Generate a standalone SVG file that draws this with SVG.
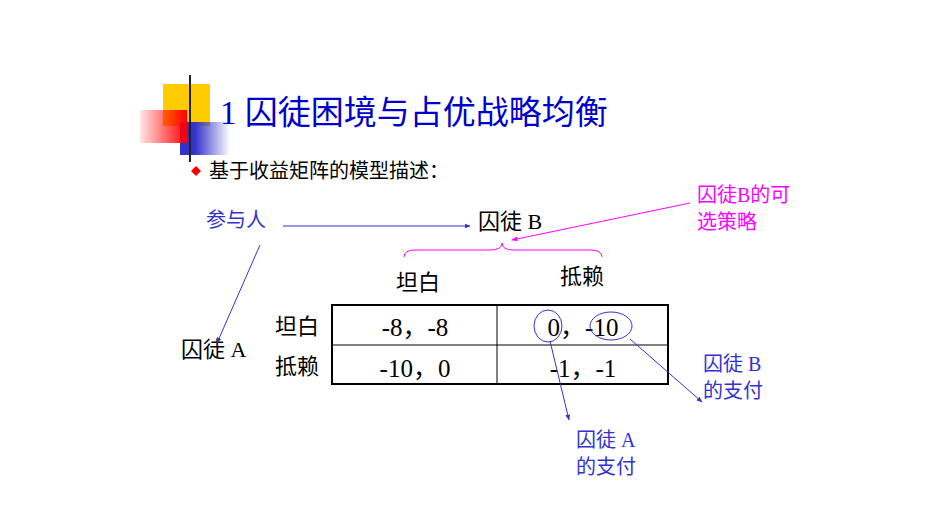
<svg xmlns="http://www.w3.org/2000/svg" width="942" height="512" viewBox="0 0 942 512">
<defs>
<linearGradient id="gr" x1="1" x2="0" y1="0" y2="0"><stop offset="0" stop-color="#ff0000"/><stop offset="1" stop-color="#ff0000" stop-opacity="0.1"/></linearGradient>
<linearGradient id="gb" x1="0" x2="1"><stop offset="0.3" stop-color="#3333cc"/><stop offset="1" stop-color="#3333cc" stop-opacity="0"/></linearGradient>
<linearGradient id="gl" x1="0" x2="1"><stop offset="0" stop-color="#333"/><stop offset="1" stop-color="#ccc" stop-opacity="0.3"/></linearGradient>
<marker id="ab" viewBox="0 0 10 10" refX="9" refY="5" markerWidth="6" markerHeight="6" orient="auto"><path d="M0,1L10,5L0,9z" fill="#3333cc"/></marker>
<marker id="am" viewBox="0 0 10 10" refX="9" refY="5" markerWidth="6" markerHeight="6" orient="auto"><path d="M0,1L10,5L0,9z" fill="#ff00ff"/></marker>
</defs>
<style>
text{font-family:"Liberation Serif","Noto Sans CJK SC",serif;}
.k{fill:#000;font-size:22px}
.n{fill:#000;font-size:25px}
.b{fill:#3333cc;font-size:20px}
.m{fill:#ff00ff;font-size:20px}
.cb{stroke:#3333cc;stroke-width:1;fill:none}
</style>
<rect width="942" height="512" fill="#fff"/>
<g id="deco">
<rect x="163" y="84" width="47" height="42" fill="#ffcc00"/>
<rect x="180" y="122" width="50" height="33" fill="url(#gb)"/>
<rect x="140" y="110" width="47" height="33" fill="url(#gr)"/>
<line x1="190" y1="75" x2="190" y2="162" stroke="#222" stroke-width="2"/>
<line x1="165" y1="138" x2="900" y2="138" stroke="url(#gl)" stroke-width="2"/>
</g>
<text x="220" y="124" font-size="33" fill="#0000cc">1 囚徒困境与占优战略均衡</text>
<path d="M196,166L201,171L196,176L191,171z" fill="#ff0000"/>
<text x="209" y="178" font-size="20" fill="#000">基于收益矩阵的模型描述：</text>
<g id="labels">
<text x="206" y="227" class="b">参与人</text>
<text x="478" y="229" class="k">囚徒 B</text>
<text x="697" y="202" class="m">囚徒B的可</text>
<text x="697" y="229" class="m">选策略</text>
<text x="181" y="357" class="k">囚徒 A</text>
<text x="396" y="290" class="k">坦白</text>
<text x="560" y="284" class="k">抵赖</text>
<text x="275" y="334" class="k">坦白</text>
<text x="275" y="374" class="k">抵赖</text>
<text x="703" y="371" class="b">囚徒 B</text>
<text x="703" y="398" class="b">的支付</text>
<text x="576" y="447" class="b">囚徒 A</text>
<text x="576" y="474" class="b">的支付</text>
</g>
<g id="table">
<rect x="332" y="305" width="336" height="79" fill="none" stroke="#000" stroke-width="2"/>
<line x1="332" y1="345" x2="668" y2="345" stroke="#000"/>
<line x1="497" y1="305" x2="497" y2="384" stroke="#000"/>
<text x="415" y="336" text-anchor="middle" class="n">-8，-8</text>
<text x="415" y="377" text-anchor="middle" class="n">-10，0</text>
<text x="583" y="336" text-anchor="middle" class="n">0，-10</text>
<text x="583" y="377" text-anchor="middle" class="n">-1，-1</text>
</g>
<g id="connectors">
<line x1="283" y1="226" x2="470" y2="226" class="cb" marker-end="url(#ab)"/>
<line x1="260" y1="245" x2="217" y2="343" class="cb" marker-end="url(#ab)"/>
<line x1="690" y1="203" x2="512" y2="240" stroke="#ff00ff" marker-end="url(#am)"/>
<path d="M404,257Q404,250 415,250L490,250Q502,250 502,243Q502,250 514,250L590,250Q602,250 602,257" fill="none" stroke="#ff00ff"/>
<ellipse cx="548" cy="326" rx="14" ry="16" class="cb" stroke-width="1.5"/>
<ellipse cx="611" cy="326" rx="21" ry="14" class="cb" stroke-width="1.5"/>
<line x1="550" y1="341" x2="569" y2="420" class="cb" marker-end="url(#ab)"/>
<line x1="630" y1="339" x2="702" y2="402" class="cb" marker-end="url(#ab)"/>
</g>
</svg>
